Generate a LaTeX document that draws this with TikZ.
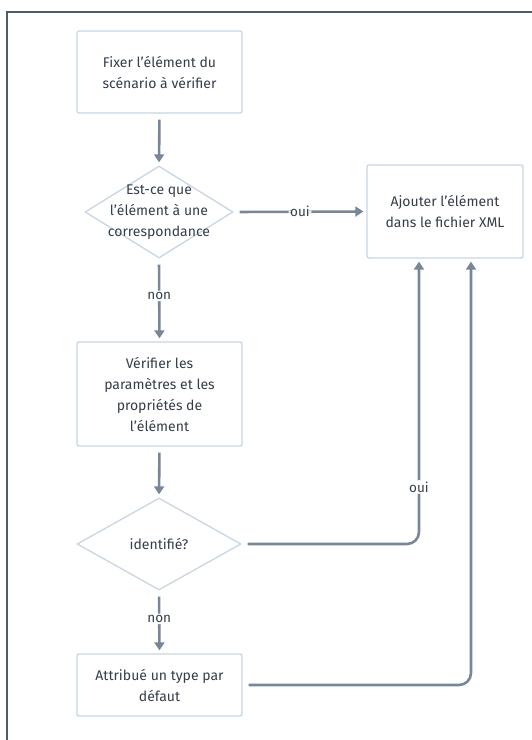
\documentclass[tikz,border=0pt]{standalone}
\usepackage{fontspec}
\setmainfont{Fira Sans}
\usetikzlibrary{shapes.geometric,arrows.meta,calc}
\definecolor{edgec}{HTML}{788797}
\definecolor{boxc}{HTML}{C8D6E3}
\definecolor{txtc}{HTML}{343E4A}
\definecolor{framec}{HTML}{4D5D6E}
\tikzset{
  stepbox/.style={draw=boxc, line width=1.3pt, rounded corners=2pt, fill=white,
    text=txtc, align=center, font=\fontsize{14}{21}\selectfont, inner sep=0pt},
  decbox/.style={diamond, draw=boxc, line width=1.3pt, fill=white, inner sep=0pt},
  dectext/.style={text=txtc, align=center, font=\fontsize{14}{21}\selectfont},
  conn/.style={draw=edgec, line width=2.6pt, -{Triangle[width=10pt,length=8pt]},
    shorten <=6pt, shorten >=3pt, rounded corners=12pt},
  lbl/.style={fill=white, text=txtc, font=\fontsize{13.5}{15}\selectfont, inner sep=1.5pt}
}
\begin{document}
\begin{tikzpicture}[x=1pt,y=-1pt]
\useasboundingbox (0,0) rectangle (531,740);
\draw[framec, line width=2pt] (7,742) -- (7,12) -- (533,12);

\node[stepbox, minimum width=165pt, minimum height=82pt] (b1) at (159.5,72)
  {Fixer l'élément du\\scénario à vérifier};
\node[decbox, minimum width=148pt, minimum height=92pt] (d1) at (159,212) {};
\node[dectext] (d1t) at (d1.center) {Est-ce que\\l'élément à une\\correspondance};
\node[stepbox, minimum width=156pt, minimum height=93pt] (add) at (445,211.5)
  {Ajouter l'élément\\dans le fichier XML};
\node[stepbox, minimum width=165pt, minimum height=104pt] (b2) at (159.5,394)
  {Vérifier les\\paramètres et les\\propriétés de\\l'élément};
\node[decbox, minimum width=164pt, minimum height=92pt] (d2) at (159,544) {};
\node[dectext] (d2t) at (d2.center) {identifié?};
\node[stepbox, minimum width=165pt, minimum height=62pt] (b3) at (159.5,685)
  {Attribué un type par\\défaut};

\draw[conn] (b1.south) -- (d1.north);
\draw[conn] (d1.east) -- node[lbl] (l1) {oui} (add.west);
\draw[conn] (d1.south) -- node[lbl, pos=0.45] (l2) {non} (b2.north);
\draw[conn] (b2.south) -- (d2.north);
\draw[conn] (d2.east) -| node[lbl, pos=0.6] (l3) {oui} ($(add.south)+(-26,0)$);
\draw[conn] (d2.south) -- node[lbl, pos=0.45] (l4) {non} (b3.north);
\draw[conn] (b3.east) -| ($(add.south)+(26,0)$);
\end{tikzpicture}
\end{document}
